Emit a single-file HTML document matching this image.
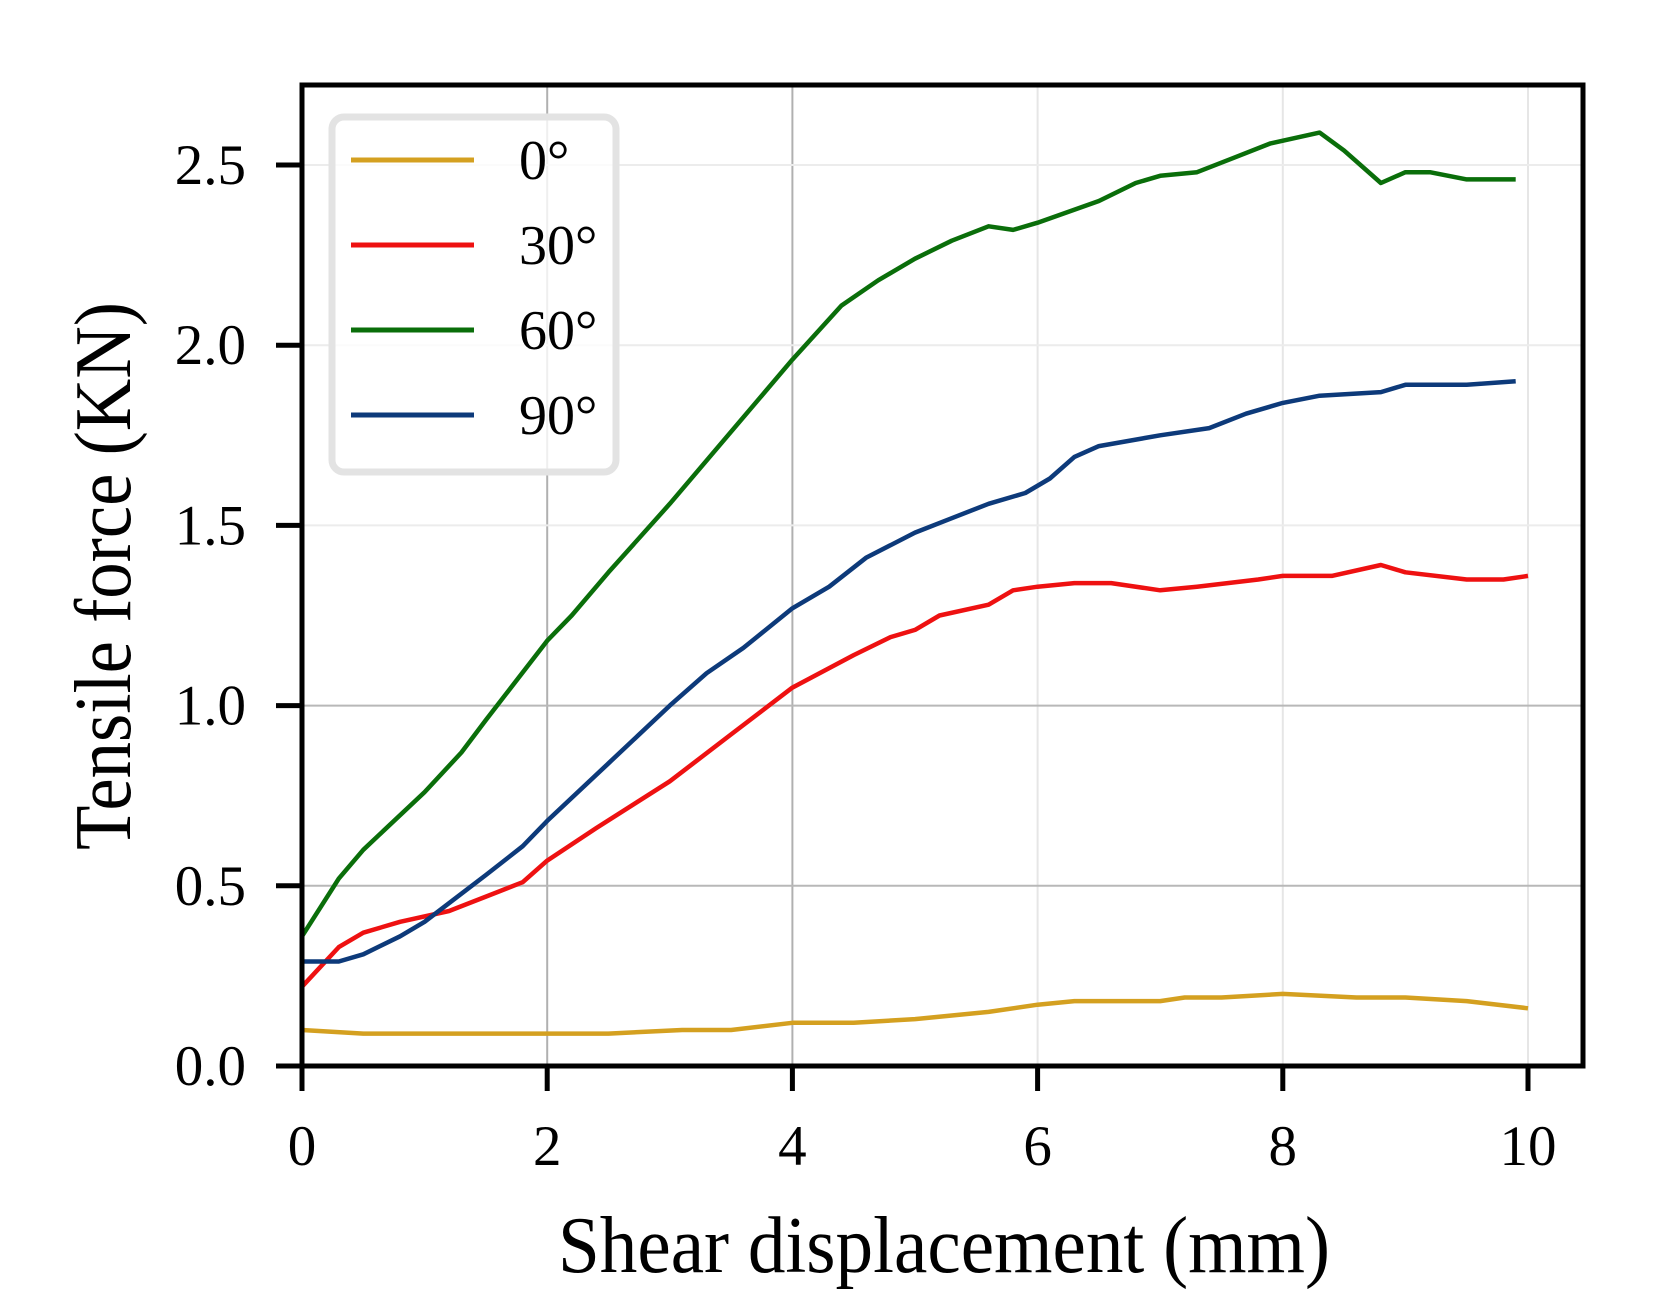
<!DOCTYPE html>
<html><head><meta charset="utf-8">
<style>
html,body{margin:0;padding:0;background:#fff;}
svg{display:block;font-family:"Liberation Serif",serif;}
</style></head>
<body>
<svg id="chart" width="1657" height="1302" viewBox="0 0 1657 1302" xmlns="http://www.w3.org/2000/svg">
<g id="grid"></g>
<g id="legend">
  <rect x="332" y="117" width="284" height="355" rx="12" fill="#fff" fill-opacity="0.8" stroke="#e3e3e3" stroke-width="7"/>
</g>
<g id="series"></g>
<g id="axes"></g>
<text x="944" y="1272" font-size="80" text-anchor="middle" textLength="772" lengthAdjust="spacingAndGlyphs">Shear displacement (mm)</text>
<text transform="translate(130,576) rotate(-90)" font-size="80" text-anchor="middle" textLength="548" lengthAdjust="spacingAndGlyphs">Tensile force (KN)</text>
</svg>
<script>
const xTicks = [0, 2, 4, 6, 8, 10];
const yTicks = [0.0, 0.5, 1.0, 1.5, 2.0, 2.5];
const yTickLabels = ["0.0", "0.5", "1.0", "1.5", "2.0", "2.5"];
const seriesNames = ["0°", "30°", "60°", "90°"];
const seriesColors = ["#d4a020", "#ee1111", "#0a6e0a", "#0d3a7a"];
const x0 = [0,0.5,1,1.6,2,2.5,3.1,3.5,4,4.5,5,5.6,6,6.3,7,7.2,7.5,8,8.6,9,9.5,10];
const y0 = [0.10,0.09,0.09,0.09,0.09,0.09,0.10,0.10,0.12,0.12,0.13,0.15,0.17,0.18,0.18,0.19,0.19,0.20,0.19,0.19,0.18,0.16];
const x30 = [0,0.3,0.5,0.8,1.2,1.5,1.8,2,2.4,3,3.5,4,4.5,4.8,5,5.2,5.6,5.8,6,6.3,6.6,7,7.3,7.8,8,8.4,8.8,9,9.5,9.8,10];
const y30 = [0.22,0.33,0.37,0.40,0.43,0.47,0.51,0.57,0.66,0.79,0.92,1.05,1.14,1.19,1.21,1.25,1.28,1.32,1.33,1.34,1.34,1.32,1.33,1.35,1.36,1.36,1.39,1.37,1.35,1.35,1.36];
const x60 = [0,0.3,0.5,1,1.3,1.5,2,2.2,2.5,3,3.5,4,4.4,4.7,5,5.3,5.6,5.8,6,6.5,6.8,7,7.3,7.6,7.9,8.3,8.5,8.8,9,9.2,9.5,9.9];
const y60 = [0.36,0.52,0.60,0.76,0.87,0.96,1.18,1.25,1.37,1.56,1.76,1.96,2.11,2.18,2.24,2.29,2.33,2.32,2.34,2.40,2.45,2.47,2.48,2.52,2.56,2.59,2.54,2.45,2.48,2.48,2.46,2.46];
const x90 = [0,0.3,0.5,0.8,1,1.5,1.8,2,2.5,3,3.3,3.6,4,4.3,4.6,5,5.3,5.6,5.9,6.1,6.3,6.5,7,7.4,7.7,8,8.3,8.8,9,9.5,9.9];
const y90 = [0.29,0.29,0.31,0.36,0.40,0.53,0.61,0.68,0.84,1.00,1.09,1.16,1.27,1.33,1.41,1.48,1.52,1.56,1.59,1.63,1.69,1.72,1.75,1.77,1.81,1.84,1.86,1.87,1.89,1.89,1.90];

const NS = "http://www.w3.org/2000/svg";
const L = 302, R = 1583, T = 85, B = 1066;
function sx(v){ return L + v * (1528 - 302) / 10; }
function sy(v){ return B - v * (B - 165) / 2.5; }
function mk(tag, attrs, parent){ const e = document.createElementNS(NS, tag); for (const k in attrs) e.setAttribute(k, attrs[k]); parent.appendChild(e); return e; }

const grid = document.getElementById('grid');
xTicks.forEach(t => {
  if (t === 0) return;
  const g = mk('line', {x1: sx(t), x2: sx(t), y1: T, y2: B, stroke: (t===2||t===4) ? '#b0b0b0' : '#e6e6e6', 'stroke-width': 2}, grid);
  
  
});
yTicks.forEach(t => {
  if (t === 0) return;
  const g = mk('line', {x1: L, x2: R, y1: sy(t), y2: sy(t), stroke: (t<=1) ? '#b8b8b8' : '#ececec', 'stroke-width': 2}, grid);
  
  
});

const legend = document.getElementById('legend');
seriesNames.forEach((n, i) => {
  const y = 160 + i * 85;
  const ln = mk('line', {x1: 351, x2: 474, y1: y, y2: y, stroke: seriesColors[i], 'stroke-width': 5}, legend);
  
  
  const tx = mk('text', {x: 519, y: y + 19, 'font-size': 56}, legend);
  tx.textContent = n;
  
  
});

const series = document.getElementById('series');
const xs = [x0, x30, x60, x90], ys = [y0, y30, y60, y90];
xs.forEach((xa, i) => {
  const pts = xa.map((x, j) => sx(x).toFixed(1) + ',' + sy(ys[i][j]).toFixed(1)).join(' ');
  const p = mk('polyline', {points: pts, fill: 'none', stroke: seriesColors[i], 'stroke-width': 4.5, 'stroke-linejoin': 'round'}, series);
  
  
});

const axes = document.getElementById('axes');
const fr = mk('rect', {x: L, y: T, width: R - L, height: B - T, fill: 'none', stroke: '#000', 'stroke-width': 5}, axes);


xTicks.forEach(t => {
  const tk = mk('line', {x1: sx(t), x2: sx(t), y1: B, y2: 1091, stroke: '#000', 'stroke-width': 5}, axes);
  
  
  const lb = mk('text', {x: sx(t), y: 1165, 'font-size': 57, 'text-anchor': 'middle'}, axes);
  lb.textContent = String(t);
  
  
});
yTicks.forEach((t, i) => {
  const tk = mk('line', {x1: 276, x2: L, y1: sy(t), y2: sy(t), stroke: '#000', 'stroke-width': 5}, axes);
  
  
  const lb = mk('text', {x: 246, y: sy(t) + 19, 'font-size': 57, 'text-anchor': 'end'}, axes);
  lb.textContent = yTickLabels[i];
  
  
});
</script>
</body></html>
